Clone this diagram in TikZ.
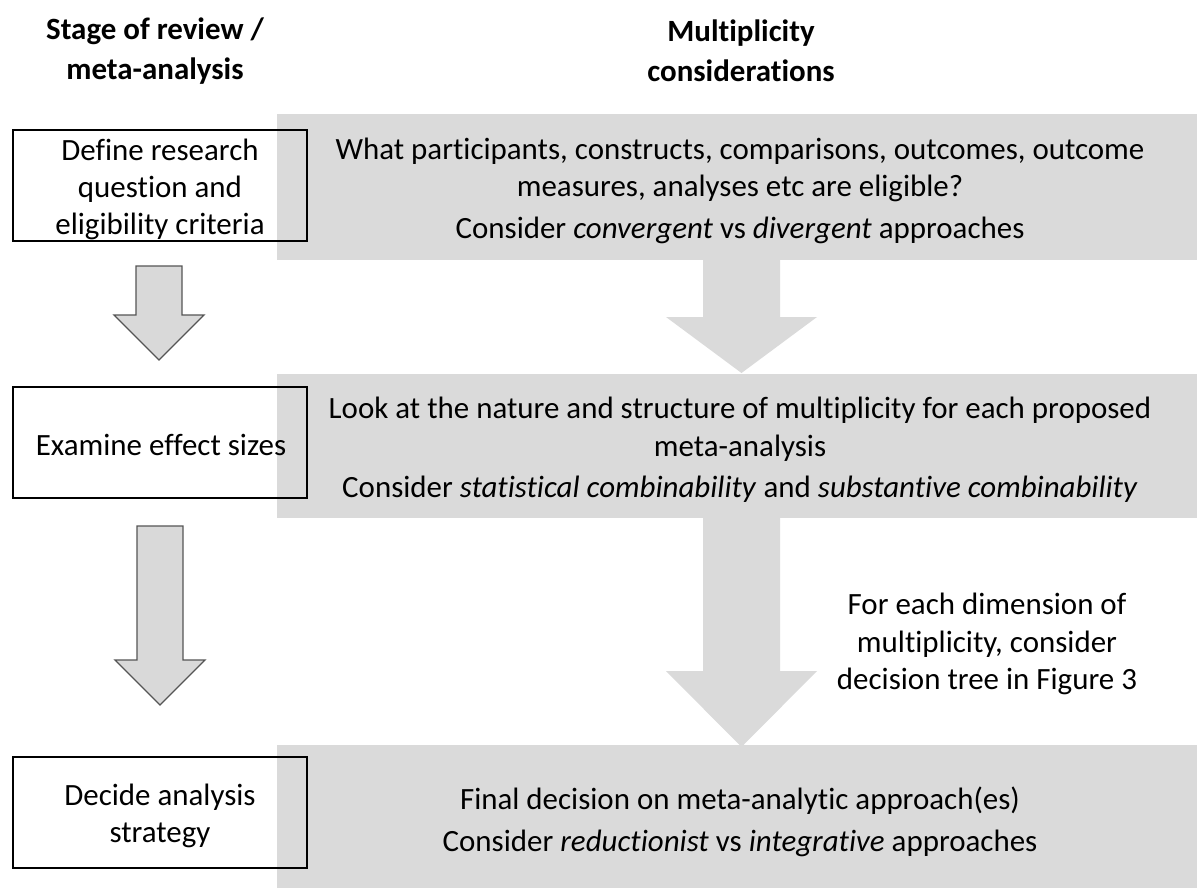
\documentclass[tikz,border=0pt]{standalone}
\usepackage{fontspec}
\setmainfont{Carlito}[Ligatures=NoCommon, RawFeature=-liga]
\usetikzlibrary{positioning}
\definecolor{panelgray}{HTML}{DADADA}
\definecolor{arrowgray}{HTML}{D9D9D9}
\definecolor{edgegray}{HTML}{555555}
\tikzset{
  panelbox/.style={fill=panelgray, draw=none, minimum width=23cm, inner sep=0pt},
  stagebox/.style={draw=black, line width=1.2pt, minimum width=7.35cm, minimum height=2.775cm, inner sep=0pt},
  bodytxt/.style={align=center, inner sep=0pt},
  hollowarr/.style={fill=arrowgray, draw=edgegray, line width=0.9pt, line join=miter},
  solidarr/.style={fill=panelgray, draw=none},
  headtxt/.style={font=\fontsize{22}{28.5}\selectfont\bfseries, align=center},
}

\begin{document}
\begin{tikzpicture}[x=0.025cm, y=-0.025cm, font=\fontsize{22}{26.5}\selectfont]
  \useasboundingbox (0,0) rectangle (1197,888);
  % column headings
  \node[headtxt] (hstage) at (155,51) {Stage of review /\\meta-analysis};
  \node[headtxt] (hmult) at (741,51) {Multiplicity\\considerations};

  % grey panels
  \node[panelbox, minimum height=3.65cm] (pan1) at (737,187) {};
  \node[panelbox, minimum height=3.6cm] (pan2) at (737,446) {};
  \node[panelbox, minimum height=3.575cm] (pan3) at (737,816.5) {};

  % block arrows between panels
  \fill[solidarr] (703,258) -- (780,258) -- (780,317) -- (817,317) -- (741.5,373)
    -- (666,317) -- (703,317) -- cycle;
  \fill[solidarr] (703,516) -- (780,516) -- (780,671) -- (817,671) -- (741.5,747)
    -- (666,671) -- (703,671) -- cycle;

  % left arrows
  \draw[hollowarr] (136,266) -- (182,266) -- (182,315) -- (204,315) -- (159,360)
    -- (114,315) -- (136,315) -- cycle;
  \draw[hollowarr] (137,526) -- (183,526) -- (183,660) -- (205,660) -- (160,705)
    -- (115,660) -- (137,660) -- cycle;

  % stages
  \node[stagebox] (st1) at (160,185.5) {};
  \node[stagebox] (st2) at (160,442.5) {};
  \node[stagebox] (st3) at (160,812.5) {};

  % texts
  \node[bodytxt] (q1) at (740,191)
    {What participants, constructs, comparisons, outcomes, outcome\\measures, analyses etc are eligible?\\[3pt]
     Consider \textit{convergent} vs \textit{divergent} approaches};
  \node[bodytxt] (q2) at (740,450)
    {Look at the nature and structure of multiplicity for each proposed\\meta-analysis\\[3pt]
     Consider \textit{statistical combinability} and \textit{substantive combinability}};
  \node[bodytxt] (q3) at (740,822)
    {Final decision on meta-analytic approach(es)\\[3pt]
     Consider \textit{reductionist} vs \textit{integrative} approaches};
  \node[bodytxt] (s1) at (160,189.5) {Define research\\question and\\eligibility criteria};
  \node[bodytxt] (s2) at (161,445) {Examine effect sizes};
  \node[bodytxt] (s3) at (160,816) {Decide analysis\\strategy};
  \node[bodytxt] (note) at (987,644) {For each dimension of\\multiplicity, consider\\decision tree in Figure 3};
\end{tikzpicture}
\end{document}
